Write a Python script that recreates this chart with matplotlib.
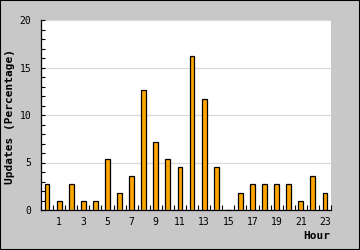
import matplotlib.pyplot as plt
from matplotlib.ticker import MultipleLocator, FixedLocator
from matplotlib.patches import Rectangle

# hourly share of updates
hours = list(range(24))
updates = [2.7, 0.9, 2.7, 0.9, 0.9, 5.4, 1.8, 3.6, 12.6, 7.2, 5.4, 4.5,
           16.2, 11.7, 4.5, 0.0, 1.8, 2.7, 2.7, 2.7, 2.7, 0.9, 3.6, 1.8]
tick_hours = [1, 3, 5, 7, 9, 11, 13, 15, 17, 19, 21, 23]

plt.rcParams['font.family'] = 'DejaVu Sans Mono'

fig = plt.figure(figsize=(3.6, 2.5), dpi=100)
fig.patch.set_facecolor('#c8c8c8')
fig.patches.append(Rectangle((0, 0), 1, 1, transform=fig.transFigure,
                             fill=False, edgecolor='black', linewidth=1.5))

ax = fig.add_axes([41 / 360, 40 / 250, 290 / 360, 190 / 250])
ax.set_facecolor('white')
ax.bar(hours, updates, width=0.4, color='#ffa500', edgecolor='black',
       linewidth=0.9, zorder=3)

ax.set_xlim(-0.5, 23.5)
ax.set_ylim(0, 20)

# x: labels at odd hours, small ticks on the slot borders
ax.set_xticks(tick_hours)
ax.set_xticklabels([str(h) for h in tick_hours])
ax.xaxis.set_minor_locator(FixedLocator([h - 0.5 for h in range(25)]))
ax.tick_params(axis='x', which='major', length=0, pad=5, labelsize=7)
ax.tick_params(axis='x', which='minor', direction='in', length=3.6, width=0.8)

# y: labels every 5, ticks every 1
ax.yaxis.set_major_locator(MultipleLocator(5))
ax.yaxis.set_minor_locator(MultipleLocator(1))
ax.tick_params(axis='y', which='both', direction='in', length=3, width=0.8,
               pad=7, labelsize=7)

ax.grid(axis='y', which='major', color='#d8d8d8', linewidth=0.8, zorder=0)
for s in ['top', 'right']:
    ax.spines[s].set_visible(False)
for s in ['left', 'bottom']:
    ax.spines[s].set_linewidth(0.9)

fig.text(10 / 360, 0.535, 'Updates (Percentage)', rotation=90, ha='center',
         va='center', fontsize=8, fontweight='bold')
fig.text(330 / 360, 14 / 250, 'Hour', ha='right', va='center', fontsize=8,
         fontweight='bold')

fig.savefig('out.png', dpi=100, facecolor=fig.get_facecolor())
